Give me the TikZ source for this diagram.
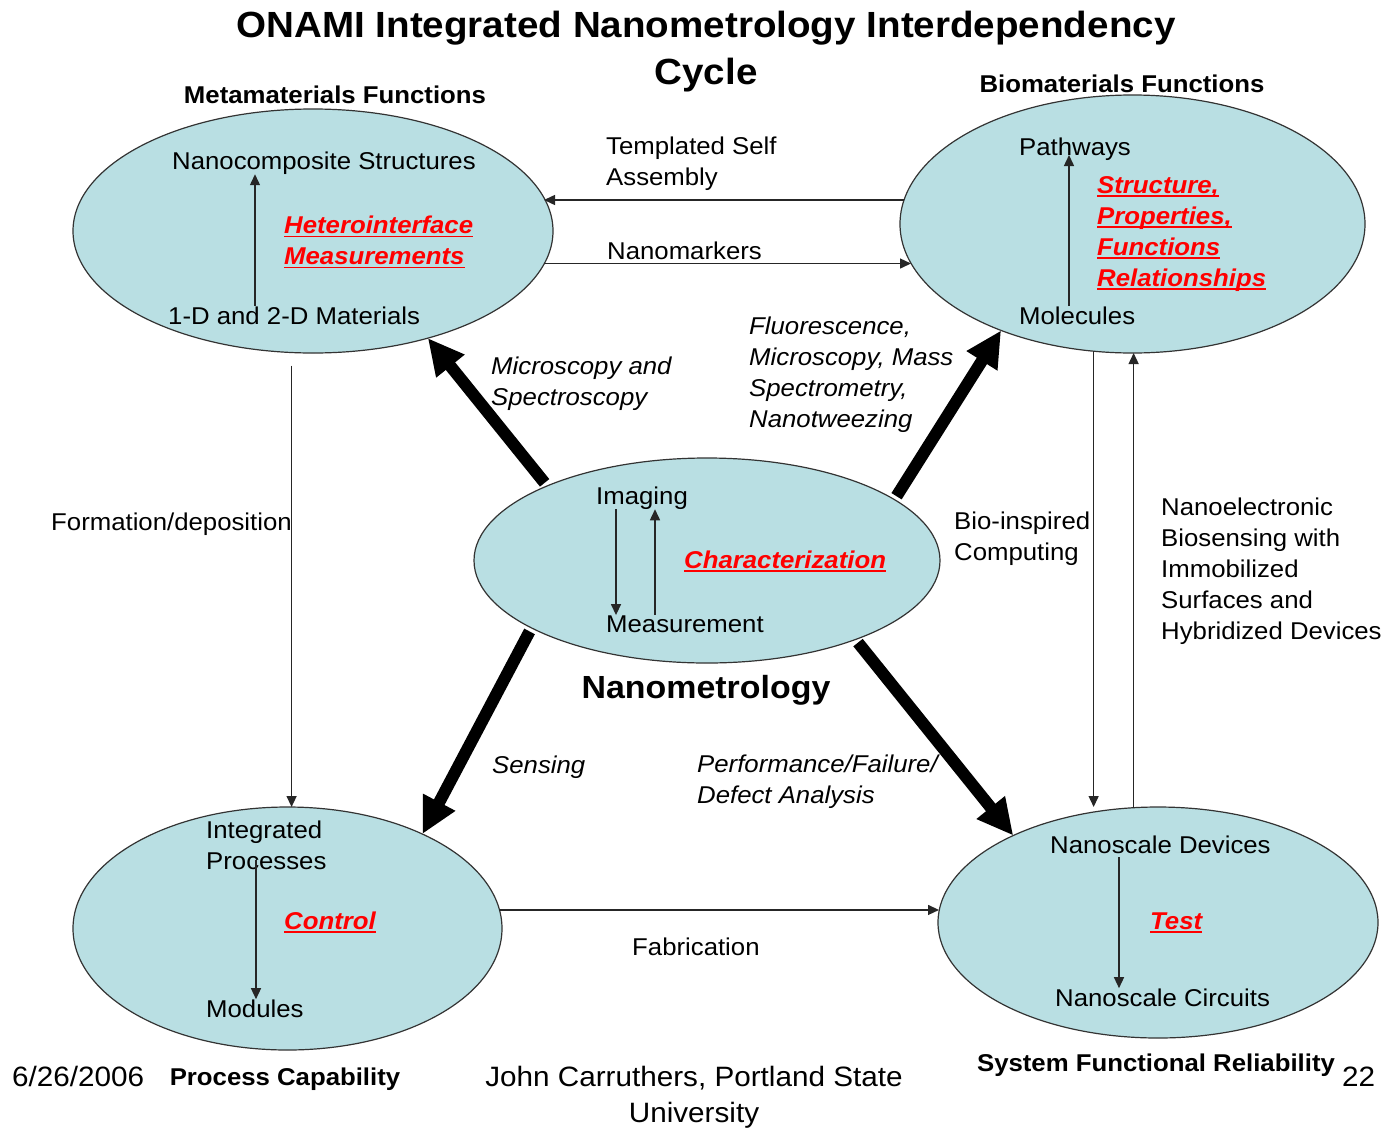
\documentclass[tikz,border=0pt]{standalone}
\usepackage{fontspec}
\setmainfont{Liberation Sans}[FakeStretch=1.06]
\usetikzlibrary{arrows.meta,shapes.geometric}
\definecolor{blobfill}{RGB}{185,223,227}
\newsavebox{\ulbox}
\newcommand{\redul}[1]{\sbox{\ulbox}{#1}\rlap{\usebox{\ulbox}}\rule[-3.5pt]{\wd\ulbox}{1.8pt}}
\begin{document}
\begin{tikzpicture}
[x=1pt, y=-1pt, inner sep=0pt, font=\fontsize{24.3}{31}\selectfont]
\tikzstyle{blob}=[ellipse, draw=black!80, line width=1.2pt, fill=blobfill, outer sep=0pt]
\tikzstyle{word}=[anchor=base west]
\tikzstyle{block}=[anchor=north west, align=left]
\tikzstyle{hot}=[text=red, font=\fontsize{24.3}{31}\selectfont\bfseries\itshape]
\tikzstyle{slant}=[font=\fontsize{24.3}{31}\selectfont\itshape]
\tikzstyle{head}=[anchor=base, font=\fontsize{24.3}{31}\selectfont\bfseries]
\tikzstyle{foot}=[font=\fontsize{28}{36}\selectfont]
\tikzstyle{link}=[draw=black!85, line width=1.4pt, -{Triangle[length=11pt,width=10pt]}]
\tikzstyle{fat}=[line width=12pt, shorten <=4pt, -{Triangle[length=36pt,width=34pt]}]
\useasboundingbox (0,0) rectangle (1384,1130);

% the five areas
\node[blob, minimum width=480pt, minimum height=244pt] (Meta)  at (313,231)    {};
\node[blob, minimum width=465pt, minimum height=258pt] (Bio)   at (1132.5,224) {};
\node[blob, minimum width=466pt, minimum height=205pt] (Core)  at (707,560.5)  {};
\node[blob, minimum width=429pt, minimum height=243pt] (Steps) at (287.5,928.5) {};
\node[blob, minimum width=440pt, minimum height=231pt] (Rel)   at (1158,922.5) {};

% titles
\node[anchor=north, align=center, font=\fontsize{36.4}{47}\selectfont\bfseries] (Title) at (706,11)
  {ONAMI Integrated Nanometrology Interdependency\\Cycle};
\node[head] (MetaT)  at (335,103)  {Metamaterials Functions};
\node[head] (BioT)   at (1122,92)  {Biomaterials Functions};
\node[head] (StepsT) at (285,1085) {Process Capability};
\node[head] (RelT)   at (1156,1071) {System Functional Reliability};
\node[anchor=base, font=\fontsize{32}{40}\selectfont\bfseries] (CoreT) at (706,698) {Nanometrology};

% texts inside the areas
\node[word] (Nano) at (172,169) {Nanocomposite Structures};
\node[word] (Mat)  at (168,324) {1-D and 2-D Materials};
\node[block, hot] (Het) at (284,216) {\redul{Heterointerface}\\\redul{Measurements}};
\node[word] (Path) at (1019,155) {Pathways};
\node[word] (Mol)  at (1019,324) {Molecules};
\node[block, hot] (SPF) at (1097,176) {\redul{Structure,}\\\redul{Properties,}\\\redul{Functions}\\\redul{Relationships}};
\node[word] (Img)  at (596,504) {Imaging};
\node[word] (Meas) at (606,632) {Measurement};
\node[word, hot] (Charz) at (684,568) {\redul{Characterization}};
\node[block] (Proc) at (206,821) {Integrated\\Processes};
\node[word] (Mod)  at (206,1017) {Modules};
\node[word, hot] (Ctrl) at (284,929) {\redul{Control}};
\node[word] (Dev)  at (1050,853) {Nanoscale Devices};
\node[word] (Circ) at (1055,1006) {Nanoscale Circuits};
\node[word, hot] (Test) at (1150,929) {\redul{Test}};

% labels of the connectors
\node[block] (TSA)  at (606,137) {Templated Self\\Assembly};
\node[word]  (NMk)  at (607,259) {Nanomarkers};
\node[word]  (Form) at (51,530)  {Formation/deposition};
\node[word]  (Fab)  at (632,955) {Fabrication};
\node[block] (BiC)  at (954,512) {Bio-inspired\\Computing};
\node[block] (NBs)  at (1161,498) {Nanoelectronic\\Biosensing with\\Immobilized\\Surfaces and\\Hybridized Devices};
\node[block, slant] (MiS) at (491,357) {Microscopy and\\Spectroscopy};
\node[block, slant] (Flu) at (749,317) {Fluorescence,\\Microscopy, Mass\\Spectrometry,\\Nanotweezing};
\node[word, slant]  (Sen) at (492,773) {Sensing};
\node[block, slant] (PFD) at (697,755) {Performance/Failure/\\Defect Analysis};

% footer
\node[word, foot] (Date) at (12,1086) {6/26/2006};
\node[anchor=north, align=center, foot] (Auth) at (694,1066) {John Carruthers, Portland State\\University};
\node[word, foot] (Page) at (1342,1086) {22};

% thin connectors
\draw[link, shorten >=-9pt] (Bio.174.5) -- (Bio.174.5 -| Meta.east);
\draw[link, shorten >=-11pt] (Meta.352.6) -- (Meta.352.6 -| Bio.west);
\draw[link, shorten <=13pt] (Meta.260.7) -- (Meta.260.7 |- Steps.north);
\draw[link, shorten >=-1pt] (Steps.5.26) -- (Steps.5.26 -| Rel.west);
\draw[link] (Bio.253.16) -- (Bio.253.16 |- Rel.north);
\draw[link] (Rel.102.3) -- (Rel.102.3 |- Bio.south);

% thick connectors
\draw[fat] (Core.155.5) -- (Meta.317.9);
\draw[fat] (Core.18.74) -- (Bio.219.3);
\draw[fat] (Core.201.8) -- (Steps.35.6);
\draw[fat] (Core.332.85) -- (Rel.149.2);

% arrows inside the areas
\path (Mat.north west) ++(87,0) coordinate (m1);
\draw[link] (m1) -- (m1 |- Nano.south);
\path (Mol.north west) ++(50,0) coordinate (m2);
\draw[link] (m2) -- (m2 |- Path.base);
\path (Img.south west) ++(20,0) coordinate (m3);
\draw[link] (m3) -- (m3 |- Meas.north);
\path (Meas.north west) ++(49,0) coordinate (m4);
\draw[link] (m4) -- (m4 |- Img.south);
\path (Proc.south west) ++(50,-10) coordinate (m5);
\draw[link] (m5) -- (m5 |- Mod.north);
\path (Dev.south west) ++(69,4) coordinate (m6);
\draw[link] (m6) -- (m6 |- Circ.north);
\end{tikzpicture}
\end{document}
